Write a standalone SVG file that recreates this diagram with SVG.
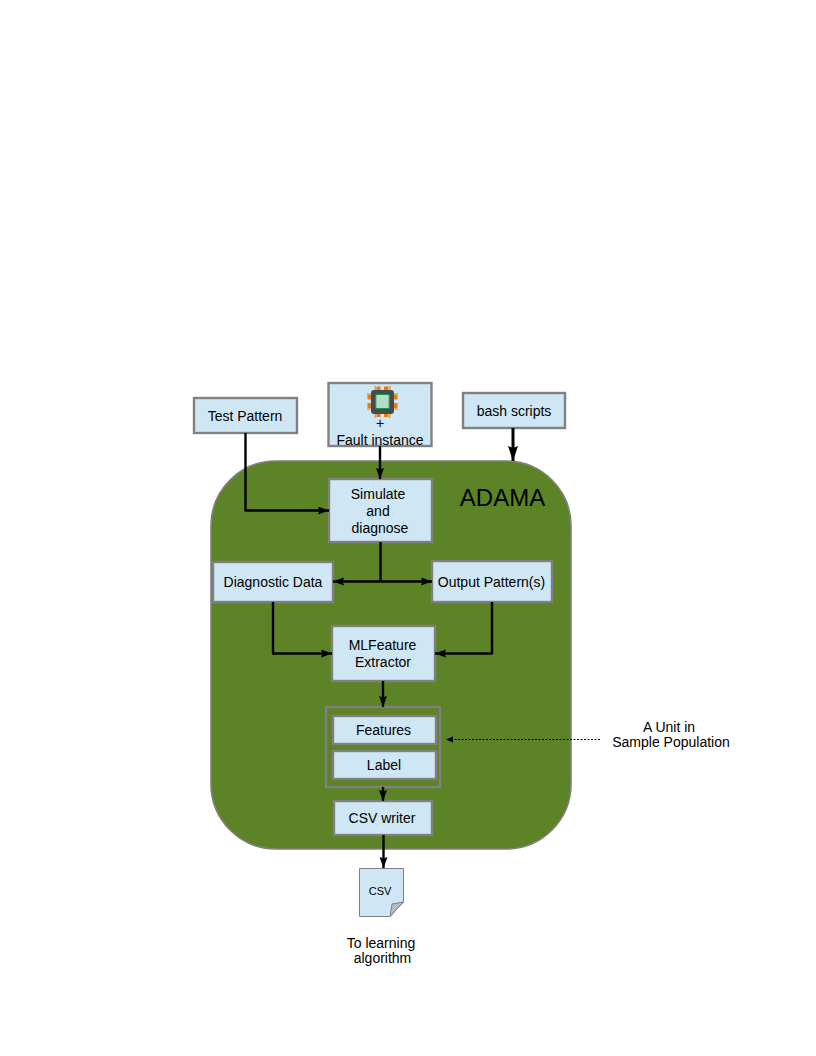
<svg xmlns="http://www.w3.org/2000/svg" width="816" height="1056" viewBox="0 0 816 1056">
<style>
text{font-family:"Liberation Sans",Arial,sans-serif;font-size:14px;fill:#000;text-anchor:middle}
.b{fill:#cfe7f5;stroke:#808080;stroke-width:2.4}
.c{fill:none;stroke:#000;stroke-width:2.4;stroke-linejoin:round}
.p{fill:#e87d0d}
</style>
<defs>
<marker id="a" markerUnits="userSpaceOnUse" markerWidth="12" markerHeight="10" refX="11" refY="4" orient="auto"><path d="M0 0L11 4L0 8L1.500 4Z" fill="#000"/></marker>
<marker id="big" markerUnits="userSpaceOnUse" markerWidth="16" markerHeight="12" refX="15" refY="5" orient="auto"><path d="M0 0L15 5L0 10L2 5Z" fill="#000"/></marker>
<marker id="s" markerUnits="userSpaceOnUse" markerWidth="8" markerHeight="8" refX="7" refY="3" orient="auto"><path d="M0 0L7 3L0 6Z" fill="#000"/></marker>
</defs>
<g id="adama"><rect x="211" y="461" width="360" height="388" rx="65" ry="65" fill="#5c8326" stroke="#808080" stroke-width="1.6"/><text x="502.500" y="506" style="font-size:24px">ADAMA</text></g>
<g id="test-pattern"><rect class="b" x="194" y="398" width="103" height="35"/><text x="245" y="421">Test Pattern</text></g>
<g id="fault-instance"><rect class="b" x="328.500" y="383" width="103" height="63"/>
<g id="chip"><rect class="p" x="367.500" y="395" width="4" height="4.500"/><rect class="p" x="367.500" y="403" width="4" height="5"/><rect class="p" x="393.500" y="395" width="4" height="4.500"/><rect class="p" x="393.500" y="403" width="4" height="5"/><rect class="p" x="376.500" y="386.500" width="4" height="4"/><rect class="p" x="384" y="386.500" width="4.500" height="4"/><rect class="p" x="376.500" y="413" width="4" height="4"/><rect class="p" x="384" y="413" width="4.500" height="4"/><rect class="p" x="374.700" y="386" width="1" height="5"/><rect class="p" x="389.500" y="386" width="1" height="5"/><rect class="p" x="374.700" y="413" width="1" height="5"/><rect class="p" x="389.500" y="413" width="1" height="5"/><rect class="p" x="367" y="393.500" width="5" height="1"/><rect class="p" x="367" y="408.500" width="5" height="1"/><rect class="p" x="393" y="393.500" width="5" height="1"/><rect class="p" x="393" y="408.500" width="5" height="1"/><rect x="371" y="390" width="23" height="24" rx="3" fill="#4a4a4a"/><rect x="375.700" y="394.500" width="13.600" height="14" rx="1" fill="#b5dcc4" stroke="#0f9a5c" stroke-width="1.200"/></g>
<text x="380" y="428">+</text><text x="380" y="445">Fault instance</text></g>
<g id="bash-scripts"><rect class="b" x="463" y="393" width="102" height="35"/><text x="514" y="416">bash scripts</text></g>
<g id="simulate"><rect class="b" x="329" y="479" width="103" height="63"/><text x="378" y="499">Simulate</text><text x="378" y="516">and</text><text x="380" y="533">diagnose</text></g>
<g id="diagnostic-data"><rect class="b" x="213" y="562" width="120" height="40"/><text x="273" y="587">Diagnostic Data</text></g>
<g id="output-pattern"><rect class="b" x="432" y="561" width="120" height="41"/><text x="491.500" y="587">Output Pattern(s)</text></g>
<g id="ml-feature"><rect class="b" x="332" y="626" width="103" height="55"/><text x="382.500" y="650">MLFeature</text><text x="383" y="667">Extractor</text></g>
<g id="unit"><rect x="326" y="707" width="114" height="80" fill="none" stroke="#808080" stroke-width="2.400"/></g>
<g id="features"><rect class="b" x="333" y="716" width="103" height="28"/><text x="383.500" y="735">Features</text></g>
<g id="label"><rect class="b" x="333" y="751" width="103" height="28"/><text x="384" y="770">Label</text></g>
<g id="csv-writer"><rect class="b" x="334" y="801" width="98" height="34"/><text x="382" y="823">CSV writer</text></g>
<g id="csv"><path d="M359.500 868.500H403.500V902L390 916.500H359.500Z" fill="#cfe7f5" stroke="#808080" stroke-width="1"/><path d="M403.500 902L390 916.500L392 904Z" fill="#b5bcc2" stroke="#808080" stroke-width="1"/><text x="380" y="895" style="font-size:11px">CSV</text></g>
<g id="notes"><text x="669" y="732">A Unit in</text><text x="671" y="747">Sample Population</text><text x="381" y="948">To learning</text><text x="382.500" y="963">algorithm</text></g>
<g id="connectors">
<path class="c" d="M245.500 433V510.500H329" marker-end="url(#a)"/>
<path class="c" d="M380 446V479" marker-end="url(#a)"/>
<path class="c" d="M513 428V461" style="stroke-width:3" marker-end="url(#big)"/>
<path class="c" d="M380.500 542V581"/>
<path class="c" d="M380.500 581.500H333" marker-end="url(#a)"/>
<path class="c" d="M380.500 581.500H432" marker-end="url(#a)"/>
<path class="c" d="M273 602V653.500H332" marker-end="url(#a)"/>
<path class="c" d="M492 602V653.500H435" marker-end="url(#a)"/>
<path class="c" d="M383 681V707" marker-end="url(#a)"/>
<path class="c" d="M383 787V801" marker-end="url(#a)"/>
<path class="c" d="M383.500 835V868" marker-end="url(#a)"/>
<path d="M600 739.500H446" fill="none" stroke="#000" stroke-width="1" stroke-dasharray="2 1.500" marker-end="url(#s)"/>
</g>
</svg>
